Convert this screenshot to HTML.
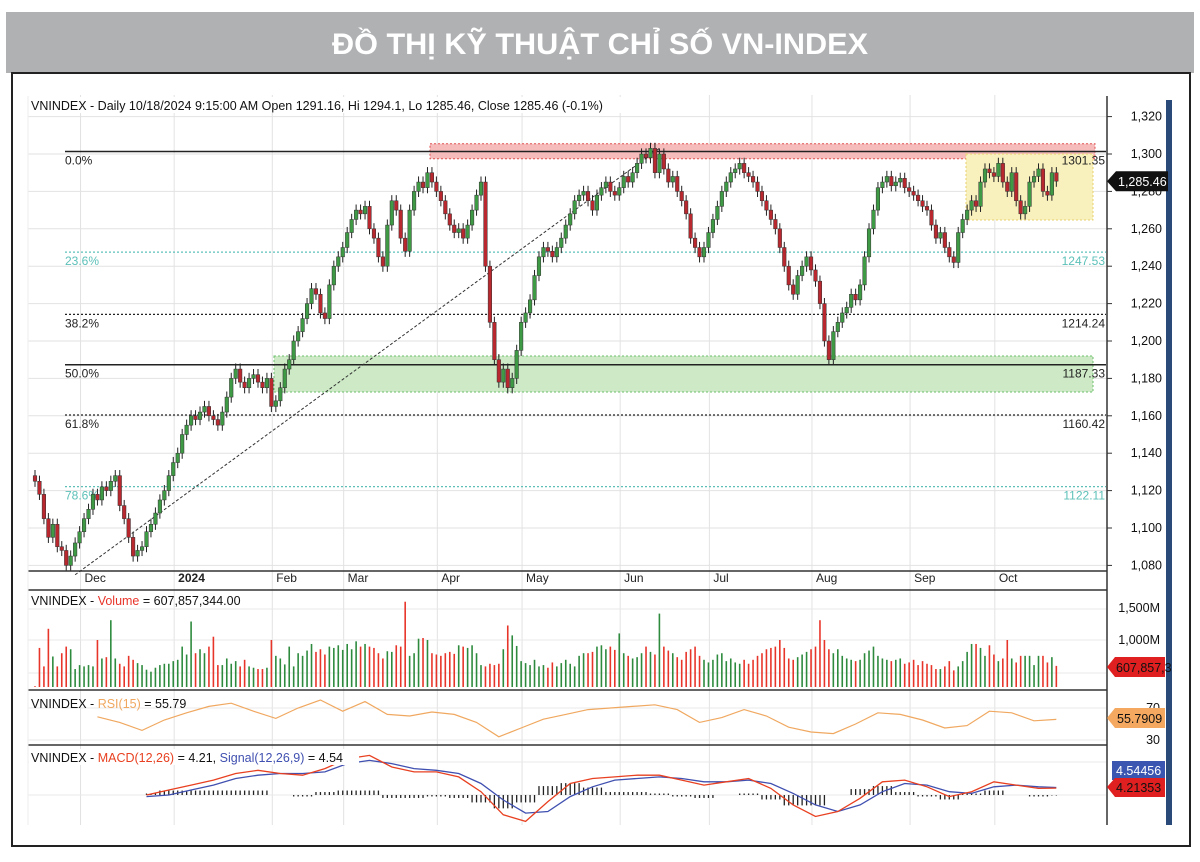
<!DOCTYPE html>
<html><head><meta charset="utf-8"><style>
body{margin:0;background:#fff;width:1200px;height:857px;overflow:hidden;font-family:"Liberation Sans",Arial,sans-serif}
svg text{font-family:"Liberation Sans",Arial,sans-serif}
</style></head><body>
<svg id="c" width="1200" height="857" xmlns="http://www.w3.org/2000/svg">
<rect x="6" y="12" width="1188" height="61" fill="#b0b1b3"/>
<text x="600" y="54" text-anchor="middle" font-size="30" font-weight="bold" fill="#fff" textLength="536" lengthAdjust="spacingAndGlyphs">ĐỒ THỊ KỸ THUẬT CHỈ SỐ VN-INDEX</text>
<rect x="12" y="73" width="1178" height="773" fill="none" stroke="#222" stroke-width="2"/>
<g id="grid"></g><g id="zones"></g><g id="fib"></g><g id="marks"></g><g id="axes"></g>
</svg>
<script>
const closes=[1125,1118,1105,1095,1102,1090,1088,1080,1085,1092,
1098,1105,1110,1118,1115,1122,1120,1125,1128,1112,
1105,1095,1085,1088,1090,1098,1102,1108,1115,1120,
1128,1135,1140,1150,1155,1160,1158,1162,1165,1160,
1158,1155,1162,1170,1180,1185,1178,1175,1180,1182,
1178,1175,1180,1165,1168,1175,1185,1190,1200,1205,
1212,1220,1228,1225,1215,1212,1230,1240,1245,1250,
1258,1265,1270,1268,1272,1260,1255,1245,1240,1262,
1275,1270,1255,1248,1270,1280,1285,1282,1290,1285,
1280,1275,1268,1262,1258,1260,1255,1262,1270,1278,
1285,1240,1210,1190,1178,1185,1175,1180,1195,1210,
1215,1222,1235,1245,1250,1248,1245,1250,1255,1262,
1268,1275,1278,1280,1275,1270,1278,1282,1285,1280,
1278,1282,1288,1285,1290,1295,1300,1298,1303,1290,
1300,1292,1285,1288,1280,1275,1268,1255,1250,1245,
1250,1258,1265,1272,1280,1285,1290,1292,1295,1290,
1288,1285,1280,1275,1270,1265,1260,1250,1240,1230,
1225,1235,1240,1245,1238,1232,1220,1200,1190,1205,
1210,1215,1218,1225,1222,1230,1245,1260,1270,1282,
1285,1288,1283,1285,1287,1282,1280,1278,1275,1272,
1270,1262,1255,1258,1250,1245,1242,1258,1265,1270,
1275,1272,1285,1292,1290,1288,1295,1285,1280,1290,
1275,1268,1272,1285,1288,1292,1280,1278,1290,1285.46];
const volumes=[300,880,600,1170,750,600,800,900,860,560,620,600,620,600,1000,720,740,1300,720,640,
600,760,700,650,620,550,520,580,620,640,640,680,700,900,780,1280,800,860,800,900,
1050,620,620,720,640,680,600,700,600,580,560,560,580,1000,760,720,630,900,600,800,
760,840,940,820,860,780,900,880,920,850,940,860,980,900,940,900,880,800,720,830,
820,920,900,1580,760,800,1020,1030,1000,800,780,760,800,820,790,920,900,880,920,800,
620,600,640,620,640,860,1220,1070,910,680,650,620,700,600,620,580,660,600,650,700,
640,600,760,800,800,820,900,920,860,900,850,1100,800,760,720,740,800,900,820,780,
1400,900,840,800,740,700,820,860,900,760,700,660,700,780,800,680,720,660,640,700,
640,700,760,800,860,880,900,1000,880,720,700,740,780,820,860,900,1300,1000,860,800,
860,760,720,700,680,700,800,840,900,760,720,700,680,700,720,640,660,700,620,680,
640,620,560,560,600,680,540,600,680,820,940,940,880,760,920,780,680,720,1000,720,
660,760,760,760,620,760,760,660,740,607.86];
const rsiValues=[59,52,42,55,64,72,76,66,57,70,80,66,78,62,60,65,62,52,34,45,56,62,68,70,72,74,68,52,58,68,60,46,40,38,50,64,62,55,45,48,66,64,54,55.79];
const macdValues=[0,3,6,9,13,15,13,12,16,22,24,17,14,14,11,2,-12,-16,-4,7,10,11,12,12,9,6,8,10,4,-6,-13,-10,-2,8,9,5,-1,2,8,6,4,4.21];
const signalValues=[-1,0,3,6,10,12,13,13,14,19,21,19,16,15,13,7,-3,-11,-10,-1,5,9,10,11,10,8,8,9,7,1,-6,-10,-6,2,7,6,2,1,5,6,5,4.54];
const priceTicks=[1320,1300,1280,1260,1240,1220,1200,1180,1160,1140,1120,1100,1080];
const monthLabels=["Dec","2024","Feb","Mar","Apr","May","Jun","Jul","Aug","Sep","Oct"];
const monthBars=[12,33,55,71,92,111,133,153,176,198,217];
const fibPct=["0.0%","23.6%","38.2%","50.0%","61.8%","78.6%"];
const fibVals=[1301.35,1247.53,1214.24,1187.33,1160.42,1122.11];

const NS="http://www.w3.org/2000/svg";
function el(t,a,p){const e=document.createElementNS(NS,t);for(const k in a)e.setAttribute(k,a[k]);document.getElementById(p).appendChild(e);return e;}
const bx=i=>35+i*4.46;
const py=v=>154+(1300-v)*1.87;
const vy=v=>Math.min(706-v*0.066,687);
const ry=v=>740-(v-30)*0.8;
const my=v=>795-v*1.65;
const rsiStart=14,macdStart=25,step=5;
const sx=(s,k)=>bx(Math.min(s+k*step,closes.length-1));
priceTicks.forEach(t=>{const g=el('line',{x1:28,x2:1106,y1:py(t),y2:py(t),stroke:'#e2e2e2'},'grid');
});
monthBars.forEach((b,i)=>{const x=bx(b)-8;const g=el('line',{x1:x,x2:x,y1:95,y2:825,stroke:'#e2e2e2'},'grid');

const t=el('text',{x:x+4,y:582,'font-size':12,fill:'#222','font-weight':i==1?'bold':'normal'},'axes');t.textContent=monthLabels[i];
});
[609,640,673].forEach(y=>{const g=el('line',{x1:28,x2:1106,y1:y,y2:y,stroke:'#e8e8e8'},'grid');});
[708,740,762,795].forEach(y=>{const g=el('line',{x1:28,x2:1106,y1:y,y2:y,stroke:'#e8e8e8'},'grid');});
let z=el('rect',{x:430,y:py(1305.5),width:665,height:15,fill:'#f6bcbc',stroke:'#e05050','stroke-dasharray':'2 2'},'zones');

z=el('rect',{x:274,y:py(1192),width:819,height:36,fill:'#cde9c6',stroke:'#6cbf6c','stroke-dasharray':'2 2'},'zones');

z=el('rect',{x:966,y:py(1300),width:127,height:66,fill:'#f9f1bd',stroke:'#e8d070','stroke-dasharray':'2 2'},'zones');

fibVals.forEach((v,i)=>{const teal=(i==1||i==5);const col=teal?'#5cc0b8':'#222';const solid=(i==0||i==3);
const l=el('line',{x1:65,x2:1106,y1:py(v),y2:py(v),stroke:col,'stroke-width':solid?1.5:1.2,'stroke-dasharray':solid?'':'2 2'},'fib');

const a=el('text',{x:65,y:py(v)+13,'font-size':12,fill:teal?'#5cc0b8':'#222'},'fib');a.textContent=fibPct[i];

const b=el('text',{x:1105,y:py(v)+13,'font-size':12,fill:teal?'#5cc0b8':'#222','text-anchor':'end'},'fib');b.textContent=v.toFixed(2);
});
const d=el('line',{x1:bx(9),y1:py(1075),x2:bx(140),y2:py(1303),stroke:'#333','stroke-dasharray':'3 2'},'fib');

closes.forEach((c,i)=>{const o=i?closes[i-1]:c+3;const up=c>=o;const x=bx(i);
const hi=Math.max(o,c)+3,lo=Math.min(o,c)-3;
const w=el('line',{x1:x,x2:x,y1:py(hi),y2:py(lo),stroke:'#222'},'marks');

const y1=py(Math.max(o,c)),y2=py(Math.min(o,c));
const r=el('rect',{x:x-1.8,y:y1,width:3.6,height:Math.max(1,y2-y1),fill:up?'#3f9a45':'#b8282e',stroke:'#333','stroke-width':0.5},'marks');

const vb=el('line',{x1:x,x2:x,y1:vy(volumes[i]),y2:687,stroke:up?'#2e8b3e':'#e8352a','stroke-width':1.6},'marks');
});
let rp=rsiValues.map((v,k)=>sx(rsiStart,k).toFixed(1)+','+ry(v).toFixed(1)).join(' ');
const rl=el('polyline',{points:rp,fill:'none',stroke:'#f0a860','stroke-width':1.2},'marks');

const lastX=bx(closes.length-1);
macdValues.forEach((v,k)=>{const h=v-signalValues[k];const x=sx(macdStart,k);
for(let j=-2;j<=2;j++){const xx=x+j*4.46;if(xx>lastX+0.5||xx<bx(macdStart)-0.5)continue;
const hb=el('line',{x1:xx,x2:xx,y1:my(0),y2:my(h*0.9),stroke:'#222','stroke-width':1.3},'marks');
}});
let sp=signalValues.map((v,k)=>sx(macdStart,k).toFixed(1)+','+my(v).toFixed(1)).join(' ');
const sl=el('polyline',{points:sp,fill:'none',stroke:'#4050b0','stroke-width':1.3},'marks');

let mp=macdValues.map((v,k)=>sx(macdStart,k).toFixed(1)+','+my(v).toFixed(1)).join(' ');
const ml=el('polyline',{points:mp,fill:'none',stroke:'#e84020','stroke-width':1.3},'marks');

const A=document.getElementById('axes');
A.insertAdjacentHTML('beforeend',`
<line x1="28" x2="1107" y1="571" y2="571" stroke="#333" stroke-width="1.5"/>
<line x1="28" x2="1107" y1="590" y2="590" stroke="#333" stroke-width="1.5"/>
<line x1="28" x2="1107" y1="690" y2="690" stroke="#333" stroke-width="1.5"/>
<line x1="28" x2="1107" y1="745" y2="745" stroke="#333" stroke-width="1.5"/>
<line x1="1107" x2="1107" y1="96" y2="825" stroke="#333" stroke-width="1.5"/>
<line x1="28" x2="28" y1="96" y2="825" stroke="#eee"/>
<rect x="1166" y="100" width="6" height="725" fill="#2a4a7a"/>
<rect x="30" y="97" width="600" height="16" fill="#fff"/>
<text x="31" y="110" font-size="12.5" fill="#111">VNINDEX - Daily 10/18/2024 9:15:00 AM Open 1291.16, Hi 1294.1, Lo 1285.46, Close 1285.46 (-0.1%)</text>
<text x="31" y="605" font-size="12.5" fill="#111">VNINDEX - <tspan fill="#e8352a">Volume</tspan> = 607,857,344.00</text>
<text x="31" y="708" font-size="12.5" fill="#111">VNINDEX - <tspan fill="#f0a860">RSI(15)</tspan> = 55.79</text>
<rect x="29" y="749" width="330" height="16" fill="#fff"/>
<text x="31" y="762" font-size="12.5" fill="#111">VNINDEX - <tspan fill="#e84020">MACD(12,26)</tspan> = 4.21, <tspan fill="#4050b0">Signal(12,26,9)</tspan> = 4.54</text>
<text x="1160" y="612" font-size="12.5" text-anchor="end" fill="#111">1,500M</text>
<text x="1160" y="644" font-size="12.5" text-anchor="end" fill="#111">1,000M</text>
<text x="1160" y="712" font-size="12.5" text-anchor="end" fill="#111">70</text>
<text x="1160" y="744" font-size="12.5" text-anchor="end" fill="#111">30</text>
<path d="M1107 667 l8 -10 h50 v20 h-50 z" fill="#e02020"/>
<text x="1116" y="672" font-size="12.5" fill="#111">607,857,3</text>
<path d="M1107 718 l8 -10 h50 v20 h-50 z" fill="#f4a860"/>
<text x="1117" y="723" font-size="12.5" fill="#111">55.7909</text>
<rect x="1112" y="761" width="53" height="19" fill="#3a56b0"/>
<text x="1116" y="775" font-size="12.5" fill="#fff">4.54456</text>
<path d="M1107 787 l8 -9 h50 v19 h-50 z" fill="#e02020"/>
<text x="1116" y="792" font-size="12.5" fill="#111">4.21353</text>
`);
priceTicks.forEach(t=>{const y=py(t);
const k=el('line',{x1:1107,x2:1112,y1:y,y2:y,stroke:'#333'},'axes');
const tx=el('text',{x:1162,y:y+4,'font-size':12.5,'text-anchor':'end',fill:'#111'},'axes');tx.textContent=t.toLocaleString('en-US');
});
const last=closes[closes.length-1],ly=py(last);
const tag=el('path',{d:`M1107 ${ly} l9 -10 h52 v20 h-52 z`,fill:'#111'},'axes');

const tt=el('text',{x:1118,y:ly+5,'font-size':12.5,fill:'#fff'},'axes');tt.textContent=last.toLocaleString('en-US',{minimumFractionDigits:2});

</script>
</body></html>
